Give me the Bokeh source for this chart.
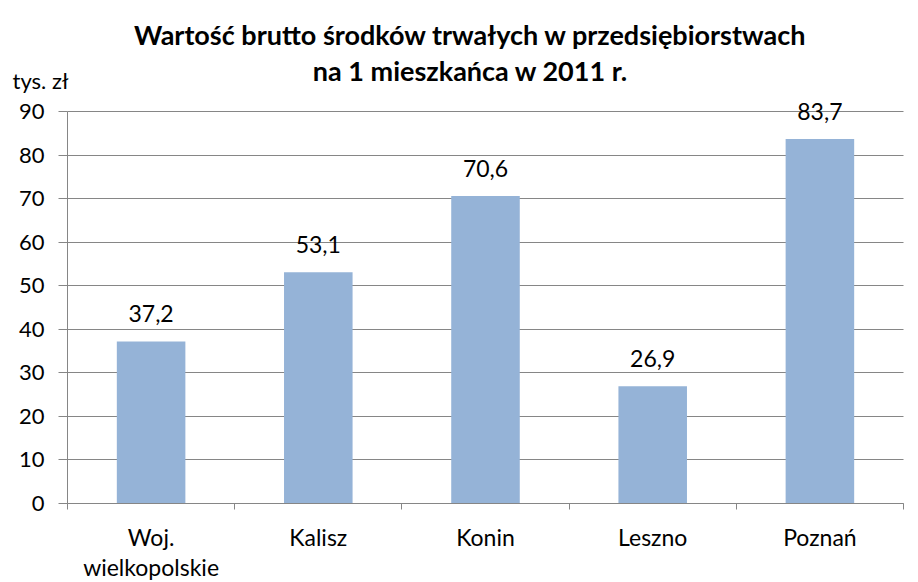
from bokeh.plotting import figure
from bokeh.models import (Range1d, LinearAxis, FixedTicker, ColumnDataSource, LabelSet, Label)
from bokeh.core.properties import value
from bokeh.embed import file_html
from bokeh.resources import INLINE

# ---- data ----
categories = ["Woj. wielkopolskie", "Kalisz", "Konin", "Leszno", "Poznań"]
label_line1 = ["Woj.", "Kalisz", "Konin", "Leszno", "Poznań"]
label_line2 = ["wielkopolskie", "", "", "", ""]
values = [37.2, 53.1, 70.6, 26.9, 83.7]
y_ticks = [0, 10, 20, 30, 40, 50, 60, 70, 80, 90]
title_line1 = "Wartość brutto środków trwałych w przedsiębiorstwach"
title_line2 = "na 1 mieszkańca w 2011 r."
unit_label = "tys. zł"

FONT = "Lato"
GRAY = "#868686"
BAR = "#95B3D7"
W, H = 918, 582

# ---- layout geometry (pixels) ----
PLOT_LEFT, PLOT_RIGHT, PLOT_TOP, PLOT_BOTTOM = 67, 903, 111, 503
n = len(categories)
UX = (PLOT_RIGHT - PLOT_LEFT) / n          # px per category band
UY = (PLOT_BOTTOM - PLOT_TOP) / y_ticks[-1]  # px per value unit


def sx(px):
    return (px - PLOT_LEFT) / UX


def sy(py):
    return (PLOT_BOTTOM - py) / UY


centers = [i + 0.5 for i in range(n)]      # category band centres
value_texts = [f"{v:.1f}".replace(".", ",") for v in values]
src = ColumnDataSource(dict(x=centers, cat=categories, val=values, txt=value_texts,
                            l1=label_line1, l2=label_line2, zero=[0] * n))

p = figure(x_range=Range1d(sx(0), sx(W)), y_range=Range1d(sy(H), sy(0)),
           width=W, height=H, output_backend="svg", toolbar_location=None,
           x_axis_location=None, y_axis_location=None, min_border=0)
p.outline_line_color = None
p.background_fill_color = "white"
p.border_fill_color = "white"
p.xgrid.visible = False

# horizontal gridlines
grid = p.ygrid[0]
grid.ticker = FixedTicker(ticks=y_ticks)
grid.grid_line_color = GRAY
if "cross_bounds" in grid.properties():
    grid.cross_bounds = (0, n)
else:
    grid.grid_line_color = None
    p.segment(x0=0, x1=n, y0=y_ticks, y1=y_ticks, line_color=GRAY, level="underlay")

p.vbar(x="x", top="val", width=0.41, source=src, fill_color=BAR, line_color=None)

# y axis
yaxis = LinearAxis(fixed_location=0, bounds=(y_ticks[0], y_ticks[-1]),
                   ticker=FixedTicker(ticks=y_ticks, minor_ticks=[]),
                   axis_line_color=GRAY, major_tick_line_color=GRAY,
                   major_tick_out=9, major_tick_in=0, minor_tick_out=0, minor_tick_in=0,
                   major_label_standoff=14, major_label_text_font=FONT,
                   major_label_text_font_size="22px", major_label_text_color="black")
p.add_layout(yaxis, "left")

# x axis line with ticks at category boundaries
edge_axis = LinearAxis(fixed_location=0, bounds=(0, n),
                       ticker=FixedTicker(ticks=list(range(n + 1)), minor_ticks=[]),
                       axis_line_color=GRAY, major_tick_line_color=GRAY,
                       major_tick_out=6, major_tick_in=0, minor_tick_out=0, minor_tick_in=0,
                       major_label_text_font_size="0px", major_label_text_color=None)
p.add_layout(edge_axis, "below")

# category labels (two lines)
p.add_layout(LabelSet(x="x", y="zero", text="l1", source=src, y_offset=-42,
                      text_align="center", text_baseline="alphabetic",
                      text_font=value(FONT), text_font_size="23px", text_color="black"))
p.add_layout(LabelSet(x="x", y="zero", text="l2", source=src, y_offset=-72,
                      text_align="center", text_baseline="alphabetic",
                      text_font=value(FONT), text_font_size="23px", text_color="black"))

# value labels
p.add_layout(LabelSet(x="x", y="val", text="txt", source=src, y_offset=19,
                      text_align="center", text_baseline="alphabetic",
                      text_font=value(FONT), text_font_size="23px", text_color="black"))

# title and unit
p.add_layout(Label(x=sx(470), y=sy(34), text=title_line1, text_align="center",
                   text_baseline="alphabetic", text_font=FONT, text_font_style="bold",
                   text_font_size="27px", text_color="black"))
p.add_layout(Label(x=sx(470), y=sy(70), text=title_line2, text_align="center",
                   text_baseline="alphabetic", text_font=FONT, text_font_style="bold",
                   text_font_size="27px", text_color="black"))
p.add_layout(Label(x=sx(12), y=sy(80), text=unit_label, text_align="left",
                   text_baseline="alphabetic", text_font=FONT,
                   text_font_size="22px", text_color="black"))

open("out.html", "w").write(file_html(p, INLINE))
